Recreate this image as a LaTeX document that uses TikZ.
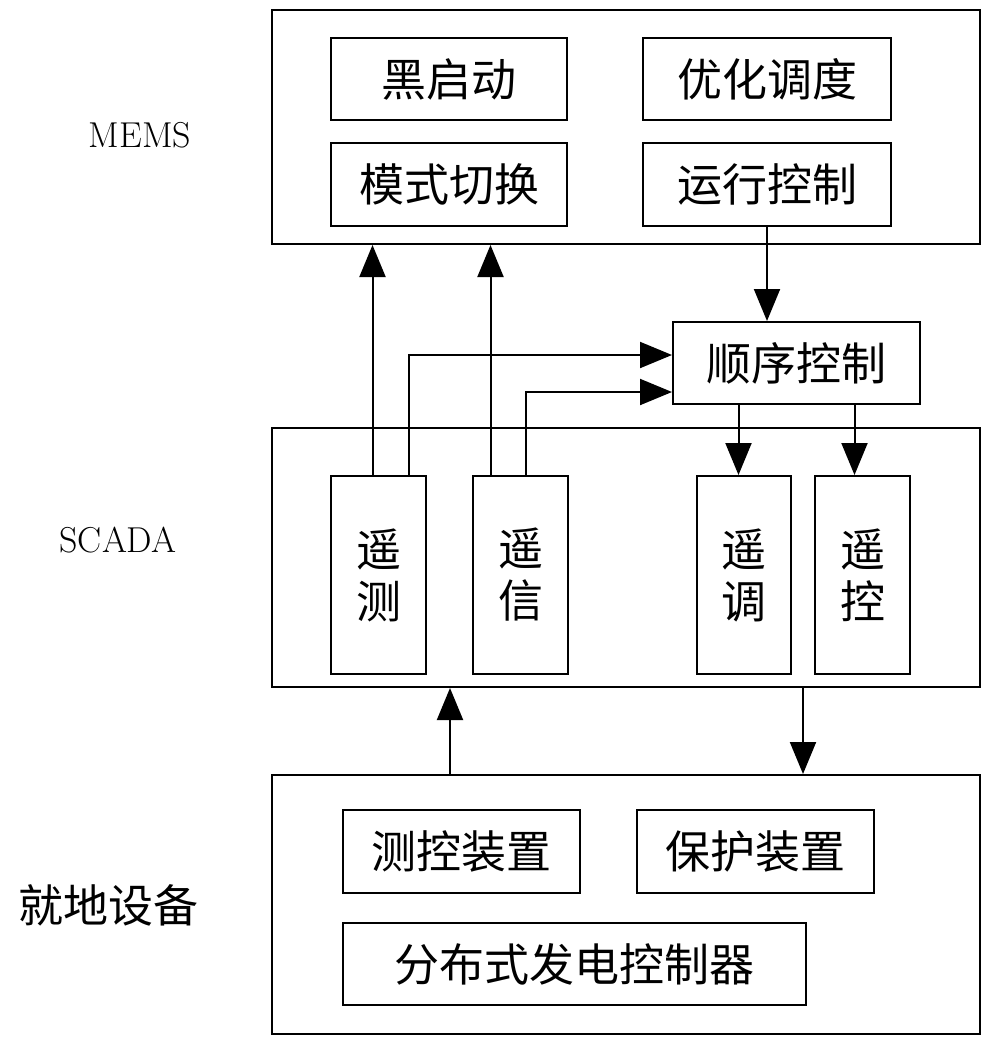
\documentclass[tikz,border=0pt]{standalone}
\usepackage{fontspec}
\newfontfamily\cjk{Noto Sans CJK SC}
\usetikzlibrary{arrows.meta}

\tikzset{
  box/.style={draw, line width=2pt, inner sep=0pt, font=\cjk\fontsize{45}{50}\selectfont},
  arr/.style={line width=2pt, -{Triangle[length=32pt, width=26pt]}},
  lbl/.style={font=\fontsize{36}{40}\selectfont}
}

\begin{document}
\begin{tikzpicture}[x=1pt, y=-1pt]
\useasboundingbox (0,0) rectangle (991,1047);

% MEMS layer
\node[box, minimum width=708pt, minimum height=234pt] (mems) at (626,127) {};
\node[lbl] at (140,135) {MEMS};
\node[box, minimum width=236pt, minimum height=82pt] (hqd) at (449,79) {黑启动};
\node[box, minimum width=248pt, minimum height=82pt] (yhdd) at (767,79) {优化调度};
\node[box, minimum width=236pt, minimum height=83pt] (msqh) at (449,184.5) {模式切换};
\node[box, minimum width=248pt, minimum height=83pt] (yxkz) at (767,184.5) {运行控制};

\node[box, minimum width=247pt, minimum height=82pt] (sxkz) at (796.5,363) {顺序控制};

% SCADA layer
\node[box, minimum width=708pt, minimum height=259pt] (scada) at (626,557.5) {};
\node[lbl] at (118,540) {SCADA};
\node[box, minimum width=95pt, minimum height=198pt, align=center] (ycl) at (378.5,575) {遥\\[2pt]测};
\node[box, minimum width=95pt, minimum height=198pt, align=center] (yx) at (520.5,575) {遥\\[2pt]信};
\node[box, minimum width=94pt, minimum height=198pt, align=center] (ytj) at (744,575) {遥\\[2pt]调};
\node[box, minimum width=95pt, minimum height=198pt, align=center] (yk) at (862.5,575) {遥\\[2pt]控};

% local devices
\node[box, minimum width=708pt, minimum height=259pt] (local) at (626,904.5) {};
\node[font=\cjk\fontsize{45}{50}\selectfont] at (108,905) {就地设备};
\node[box, minimum width=237pt, minimum height=83pt] (ckzz) at (461.5,851.5) {测控装置};
\node[box, minimum width=237pt, minimum height=83pt] (bhzz) at (755.5,851.5) {保护装置};
\node[box, minimum width=463pt, minimum height=82pt] (fbs) at (574.5,964) {分布式发电控制器};

% connectors
\draw[arr] ([xshift=-6pt]ycl.north) -- ([xshift=-6pt]ycl.north |- mems.south);
\draw[arr] ([xshift=30pt]ycl.north) |- ([yshift=8pt]sxkz.west);
\draw[arr] ([xshift=-30pt]yx.north) -- ([xshift=-30pt]yx.north |- mems.south);
\draw[arr] ([xshift=5pt]yx.north) |- ([yshift=-29pt]sxkz.west);
\draw[arr] (yxkz.south) -- (yxkz.south |- sxkz.north);
\draw[arr] ([xshift=-58pt]sxkz.south) -- ([xshift=-58pt]sxkz.south |- ytj.north);
\draw[arr] ([xshift=58pt]sxkz.south) -- ([xshift=58pt]sxkz.south |- yk.north);
\draw[arr] ([xshift=-176pt]local.north) -- ([xshift=-176pt]local.north |- scada.south);
\draw[arr] ([xshift=177pt]scada.south) -- ([xshift=177pt]scada.south |- local.north);

\end{tikzpicture}
\end{document}
